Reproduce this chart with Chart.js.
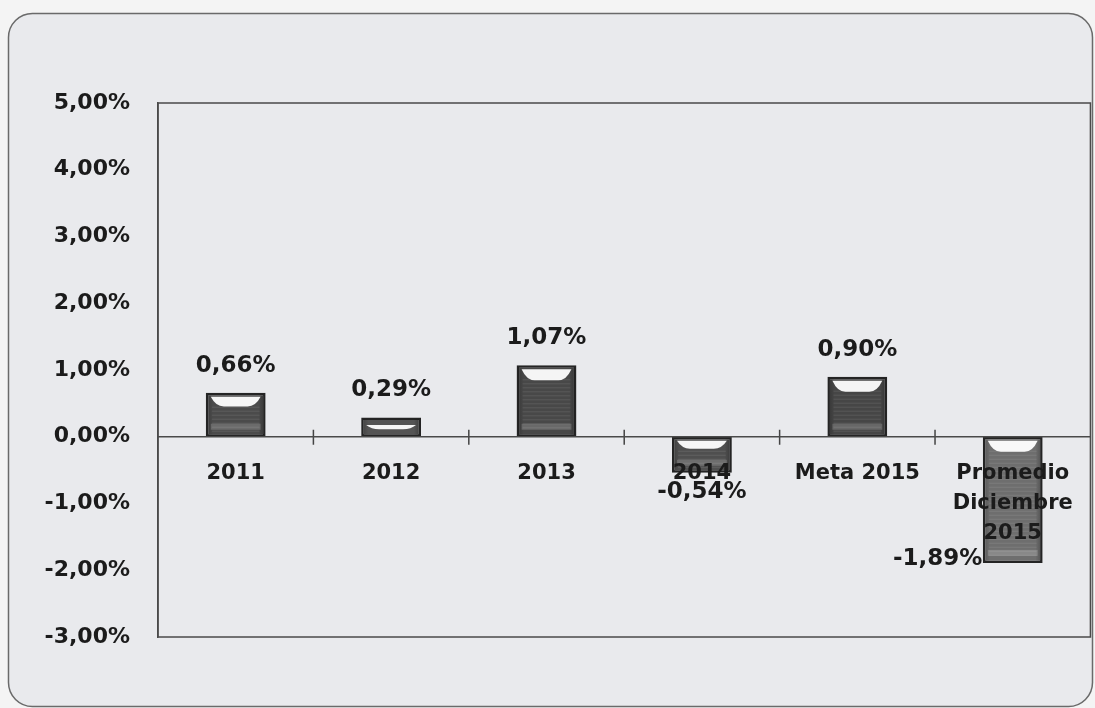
<!DOCTYPE html>
<html lang="es">
<head>
<meta charset="utf-8">
<title>Variación porcentual</title>
<script src="https://cdn.jsdelivr.net/npm/chart.js@4/dist/chart.umd.min.js"></script>
<style>
  html, body { margin: 0; padding: 0; background: #f4f4f4; }
  #wrap { width: 1095px; height: 708px; position: relative; }
</style>
</head>
<body>
<div id="wrap"><canvas id="chart"></canvas></div>
<script>
// Categorías y valores (en %)
const categories = ['2011', '2012', '2013', '2014', 'Meta 2015', ['Promedio', 'Diciembre', '2015']];
const values = [0.66, 0.29, 1.07, -0.54, 0.90, -1.89];
// Escala del eje vertical
const yMin = -3;
const yMax = 5;
const yStep = 1;

// Tono de relleno de cada barra
const barFill = ['#4b4b4b', '#545454', '#484848', '#4f4f4f', '#464646', '#6e6e6e'];
// Desplazamiento manual de etiquetas de valor (px)
const labelNudge = { 5: { dx: -75, dy: -23 } };

const FONT = '"DejaVu Sans", "Liberation Sans", Arial, sans-serif';
const fmt = v => v.toFixed(2).replace('.', ',') + '%';

// Marco redondeado y fondo
const framePlugin = {
  id: 'frame',
  beforeDraw(chart) {
    const ctx = chart.ctx;
    ctx.save();
    ctx.fillStyle = '#f4f4f4';
    ctx.fillRect(0, 0, chart.width, chart.height);
    ctx.beginPath();
    ctx.roundRect(8.5, 13.5, 1084, 693, 24);
    ctx.fillStyle = '#e9eaed';
    ctx.fill();
    ctx.lineWidth = 1.5;
    ctx.strokeStyle = '#6a6a6a';
    ctx.stroke();
    ctx.restore();
  },
  beforeDatasetsDraw(chart) {
    const { ctx, chartArea: a, scales } = chart;
    ctx.save();
    ctx.lineWidth = 1.5;
    ctx.strokeStyle = '#4a4a4a';
    ctx.strokeRect(a.left, a.top, a.right - a.left, a.bottom - a.top);
    // marcas de separación de categorías sobre la línea del cero
    const y0 = scales.y.getPixelForValue(0);
    ctx.beginPath();
    for (let i = 1; i < categories.length; i++) {
      const xb = (scales.x.getPixelForValue(i - 1) + scales.x.getPixelForValue(i)) / 2;
      ctx.moveTo(xb, y0 - 7);
      ctx.lineTo(xb, y0 + 8);
    }
    ctx.strokeStyle = '#444';
    ctx.stroke();
    ctx.restore();
  }
};

// Efecto biselado de las barras y etiquetas de valor
const barDecor = {
  id: 'barDecor',
  afterDatasetsDraw(chart) {
    const ctx = chart.ctx;
    const meta = chart.getDatasetMeta(0);
    meta.data.forEach((bar, i) => {
      const p = bar.getProps(['x', 'y', 'base', 'width'], true);
      const l = p.x - p.width / 2, r = p.x + p.width / 2;
      const t = Math.min(p.y, p.base), b = Math.max(p.y, p.base);
      const h = b - t;
      ctx.save();
      // sombreado interior
      const g = ctx.createLinearGradient(l, 0, r, 0);
      g.addColorStop(0, 'rgba(0,0,0,0.25)');
      g.addColorStop(0.12, 'rgba(0,0,0,0)');
      g.addColorStop(0.88, 'rgba(0,0,0,0)');
      g.addColorStop(1, 'rgba(0,0,0,0.3)');
      ctx.fillStyle = g;
      ctx.fillRect(l + 2, t + 2, r - l - 4, h - 4);
      // franjas horizontales
      ctx.strokeStyle = 'rgba(255,255,255,0.10)';
      ctx.lineWidth = 1;
      for (let yy = t + 14; yy < b - 6; yy += 4) {
        ctx.beginPath();
        ctx.moveTo(l + 6, yy + 0.5);
        ctx.lineTo(r - 6, yy + 0.5);
        ctx.stroke();
      }
      // banda clara inferior
      if (h > 30) {
        ctx.fillStyle = 'rgba(255,255,255,0.18)';
        ctx.fillRect(l + 5, b - 13, r - l - 10, 6);
      }
      // brillo superior
      const hh = Math.min(11, Math.max(3, h * 0.22));
      const ty = t + (h > 20 ? 4 : h / 2 - hh / 2);
      ctx.beginPath();
      ctx.moveTo(l + 5, ty);
      ctx.lineTo(r - 5, ty);
      ctx.quadraticCurveTo(r - 10, ty + hh, r - 18, ty + hh);
      ctx.lineTo(l + 18, ty + hh);
      ctx.quadraticCurveTo(l + 10, ty + hh, l + 5, ty);
      ctx.closePath();
      ctx.fillStyle = 'rgba(255,255,255,0.95)';
      ctx.fill();
      ctx.restore();

      // etiqueta de valor
      const v = values[i];
      const n = labelNudge[i] || { dx: 0, dy: 0 };
      const lx = p.x + n.dx;
      const ly = (v >= 0 ? t - 27 : b + 19) + n.dy;
      ctx.save();
      ctx.font = 'bold 23px ' + FONT;
      ctx.fillStyle = '#1b1b1b';
      ctx.textAlign = 'center';
      ctx.textBaseline = 'middle';
      ctx.fillText(fmt(v), lx, ly);
      ctx.restore();
    });
  }
};

new Chart(document.getElementById('chart'), {
  type: 'bar',
  data: {
    labels: categories,
    datasets: [{
      data: values,
      backgroundColor: barFill,
      borderColor: '#242424',
      borderWidth: 2.5,
      borderSkipped: false,
      barPercentage: 0.385,
      categoryPercentage: 1
    }]
  },
  options: {
    responsive: true,
    maintainAspectRatio: false,
    animation: false,
    layout: { padding: { top: 103, bottom: 71, right: 3, left: 0 } },
    plugins: {
      legend: { display: false },
      tooltip: { enabled: false }
    },
    scales: {
      x: {
        type: 'category',
        position: { y: 0 },
        offset: true,
        grid: { display: false, drawTicks: false },
        border: { display: true, color: '#4a4a4a', width: 1.5, z: 1 },
        ticks: {
          z: 1,
          color: '#1b1b1b',
          padding: 22,
          maxRotation: 0,
          autoSkip: false,
          font: { family: FONT, size: 21, weight: 'bold', lineHeight: 1.42 }
        }
      },
      y: {
        min: yMin,
        max: yMax,
        grid: { display: false, drawTicks: false },
        border: { display: true, color: '#4a4a4a', width: 1.5 },
        afterFit(scale) { scale.width = 158; },
        ticks: {
          stepSize: yStep,
          padding: 28,
          color: '#1b1b1b',
          font: { family: FONT, size: 22, weight: 'bold' },
          callback: v => fmt(v)
        }
      }
    }
  },
  plugins: [framePlugin, barDecor]
});
</script>
</body>
</html>
